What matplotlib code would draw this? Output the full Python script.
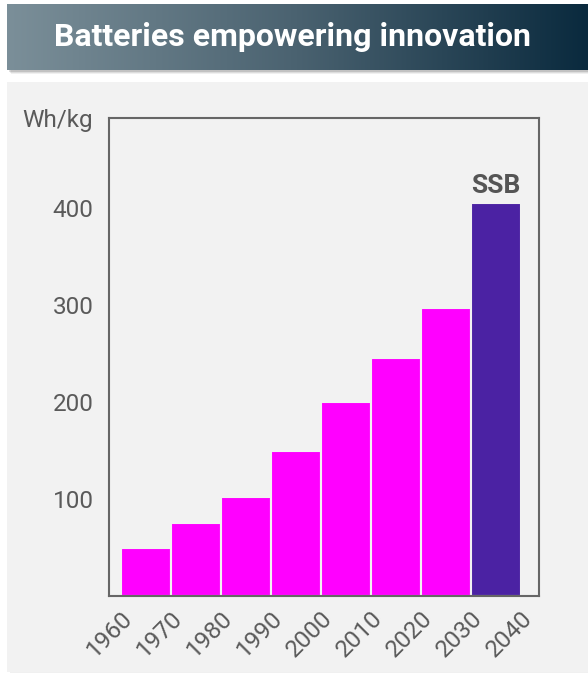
import numpy as np
import matplotlib
matplotlib.use("Agg")
import matplotlib.pyplot as plt
from matplotlib.patches import Rectangle
from matplotlib.colors import LinearSegmentedColormap
from matplotlib.transforms import ScaledTranslation

# data
decades = [1960, 1970, 1980, 1990, 2000, 2010, 2020, 2030]
energy = [50, 75, 102, 150, 200, 245, 297, 405]
colors = ['#ff00ff'] * 7 + ['#4b22a3']
xticks = [1960, 1970, 1980, 1990, 2000, 2010, 2020, 2030, 2040]
yticks = [100, 200, 300, 400]
title = "Batteries empowering innovation"

plt.rcParams['font.family'] = ['Roboto', 'DejaVu Sans']

W, H = 588, 676
fig = plt.figure(figsize=(W / 100, H / 100), dpi=100)
fig.patch.set_facecolor('white')

# background layer in pixel coordinates
bg = fig.add_axes([0, 0, 1, 1])
bg.set_xlim(0, W)
bg.set_ylim(H, 0)
bg.axis('off')

# panel shadow
for i, a in enumerate([0.06, 0.08, 0.10]):
    d = 3 - i
    bg.add_patch(Rectangle((7 + d, 82 + d), 588, 590 - 82 + 80, color='black', alpha=a, lw=0, zorder=0))
bg.add_patch(Rectangle((7, 82), 590, 590, color='#f2f2f2', lw=0, zorder=1))

# banner shadow
for i, a in enumerate([0.06, 0.08, 0.12]):
    d = 4 - i
    bg.add_patch(Rectangle((7 + d, 4 + d), 590, 66, color='black', alpha=a, lw=0, zorder=2))
cmap = LinearSegmentedColormap.from_list('b', ['#7b8f99', '#4a6270', '#0a2a3e'])
grad = np.linspace(0, 1, 256).reshape(1, -1)
bg.imshow(grad, cmap=cmap, extent=[7, 588, 70, 4], aspect='auto', zorder=3)
bg.text(293, 37, title, color='white', fontsize=23, fontweight='bold',
        ha='center', va='center', zorder=4)
bg.set_xlim(0, W)
bg.set_ylim(H, 0)

# chart axes
ax = fig.add_axes([109 / W, 1 - 596 / H, (539 - 109) / W, (596 - 118) / H])
ax.set_facecolor('#f2f2f2')
ax.bar(decades, energy, width=10, align='edge', color=colors, edgecolor='#f2f2f2', linewidth=1.5)
ax.set_xlim(1957.6, 2043.6)
ax.set_ylim(0, 493)
ax.set_xticks(xticks)
ax.set_xticklabels([str(t) for t in xticks], rotation=45, ha='right', va='top',
                   rotation_mode='anchor')
offset = ScaledTranslation(11 / 100, 0, fig.dpi_scale_trans)
for lbl in ax.get_xticklabels():
    lbl.set_transform(lbl.get_transform() + offset)
ax.set_yticks(yticks)
for s in ax.spines.values():
    s.set_color('#666666')
    s.set_linewidth(1.5)
ax.tick_params(axis='both', length=0, labelsize=17.5, colors='#5a5a5a')
ax.tick_params(axis='y', pad=11)
ax.tick_params(axis='x', pad=8)
ax.text(2035, 405 + 5, 'SSB', ha='center', va='bottom', fontsize=19, fontweight='bold', color='#555555')
fig.text(93 / W, 1 - 120 / H, 'Wh/kg', ha='right', va='center', fontsize=17.5, color='#5a5a5a')

fig.savefig('out.png', dpi=100, facecolor=fig.get_facecolor())
